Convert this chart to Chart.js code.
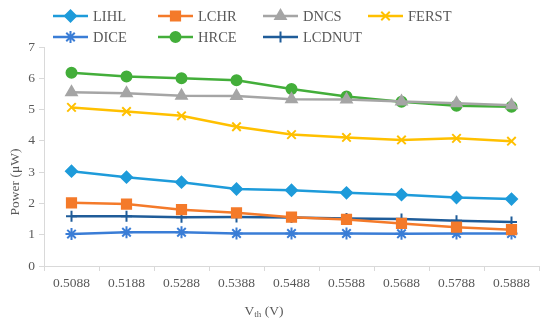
<!DOCTYPE html>
<html>
<head>
<meta charset="utf-8">
<script src="https://cdn.jsdelivr.net/npm/chart.js@4/dist/chart.umd.min.js"></script>
<style>
  html, body { margin: 0; padding: 0; background: #ffffff; }
  #wrap { width: 550px; height: 326px; position: relative; }
</style>
</head>
<body>
<div id="wrap"><canvas id="c" width="550" height="326"></canvas></div>
<script>
const categories = ['0.5088', '0.5188', '0.5288', '0.5388', '0.5488', '0.5588', '0.5688', '0.5788', '0.5888'];
const LIHL   = [3.03, 2.84, 2.68, 2.46, 2.42, 2.34, 2.28, 2.19, 2.14];
const LCHR   = [2.02, 1.98, 1.80, 1.70, 1.56, 1.49, 1.36, 1.24, 1.16];
const DNCS   = [5.55, 5.52, 5.44, 5.43, 5.33, 5.32, 5.26, 5.20, 5.14];
const FERST  = [5.07, 4.94, 4.80, 4.45, 4.20, 4.11, 4.03, 4.08, 3.99];
const DICE   = [1.02, 1.08, 1.08, 1.04, 1.04, 1.04, 1.03, 1.04, 1.04];
const HRCE   = [6.18, 6.06, 6.00, 5.94, 5.66, 5.42, 5.25, 5.12, 5.09];
const LCDNUT = [1.59, 1.59, 1.56, 1.57, 1.55, 1.52, 1.50, 1.45, 1.41];
const yTicks = [0, 1, 2, 3, 4, 5, 6, 7];

const FONT = "'Liberation Serif', 'Times New Roman', serif";
const TXT = '#595959';
const AXIS = '#D9D9D9';

const seriesDefs = [
  { label: 'LIHL',   data: LIHL,   color: '#1E9BDA', style: 'rectRot',  r: 5.5 },
  { label: 'LCHR',   data: LCHR,   color: '#F47A2A', style: 'rect',     r: 6.5 },
  { label: 'DNCS',   data: DNCS,   color: '#A5A5A5', style: 'triangle', r: 6 },
  { label: 'FERST',  data: FERST,  color: '#FFC000', style: 'crossRot', r: 6 },
  { label: 'DICE',   data: DICE,   color: '#3A7DD6', style: 'star',     r: 6 },
  { label: 'HRCE',   data: HRCE,   color: '#43AE3A', style: 'circle',   r: 5 },
  { label: 'LCDNUT', data: LCDNUT, color: '#1F5C99', style: 'cross',    r: 5.5 }
];

const datasets = seriesDefs.map(s => ({
  label: s.label,
  data: s.data,
  borderColor: s.color,
  backgroundColor: s.color,
  borderWidth: 2.5,
  pointStyle: s.style,
  pointRadius: s.r,
  pointHoverRadius: s.r,
  pointBorderWidth: 2,
  pointBorderColor: s.color,
  pointBackgroundColor: s.color,
  tension: 0,
  fill: false
}));

const customDraw = {
  id: 'customDraw',
  afterDraw(chart) {
    const ctx = chart.ctx;
    ctx.save();
    // Legend
    const cols = [53, 158, 263, 368];
    const rows = [16, 37];
    ctx.font = '14.5px ' + FONT;
    ctx.textBaseline = 'middle';
    ctx.textAlign = 'left';
    seriesDefs.forEach((s, i) => {
      const x = cols[i % 4];
      const y = rows[Math.floor(i / 4)];
      ctx.strokeStyle = s.color;
      ctx.lineWidth = 2.5;
      ctx.beginPath();
      ctx.moveTo(x, y);
      ctx.lineTo(x + 35, y);
      ctx.stroke();
      ctx.fillStyle = s.color;
      ctx.lineWidth = 2;
      Chart.helpers.drawPoint(ctx, { pointStyle: s.style, radius: s.r, rotation: 0, borderWidth: 2 }, x + 17.5, y);
      ctx.fillStyle = TXT;
      ctx.fillText(s.label, x + 40, y + 1);
    });
    // Y title
    ctx.save();
    ctx.translate(15, 182);
    ctx.rotate(-Math.PI / 2);
    ctx.textAlign = 'center';
    ctx.textBaseline = 'middle';
    ctx.font = '13.5px ' + FONT;
    ctx.fillStyle = TXT;
    ctx.fillText('Power (\u03bcW)', 0, 0);
    ctx.restore();
    // X title with subscript
    ctx.fillStyle = TXT;
    ctx.textBaseline = 'alphabetic';
    ctx.textAlign = 'left';
    const big = '13.5px ' + FONT, small = '9px ' + FONT;
    ctx.font = big; const wV = ctx.measureText('V').width;
    ctx.font = small; const wth = ctx.measureText('th').width;
    ctx.font = big; const wr = ctx.measureText(' (V)').width;
    const total = wV + wth + wr;
    let x0 = 264 - total / 2;
    const base = 315;
    ctx.font = big; ctx.fillText('V', x0, base); x0 += wV;
    ctx.font = small; ctx.fillText('th', x0, base + 2); x0 += wth;
    ctx.font = big; ctx.fillText(' (V)', x0, base);
    ctx.restore();
  }
};

new Chart(document.getElementById('c'), {
  type: 'line',
  data: { labels: categories, datasets: datasets },
  options: {
    responsive: false,
    animation: false,
    events: [],
    layout: { padding: { top: 47, right: 11, left: 0, bottom: 0 } },
    plugins: {
      legend: { display: false },
      tooltip: { enabled: false },
      title: { display: false }
    },
    scales: {
      x: {
        type: 'category',
        offset: true,
        grid: { offset: true, drawOnChartArea: false, drawTicks: true, tickLength: 5, color: AXIS, lineWidth: 1 },
        border: { display: true, color: AXIS, width: 1 },
        ticks: { color: TXT, font: { family: FONT, size: 13.5 }, padding: 4, maxRotation: 0, autoSkip: false },
        afterFit(scale) { scale.height = 60; }
      },
      y: {
        type: 'linear',
        min: yTicks[0],
        max: yTicks[yTicks.length - 1],
        afterBuildTicks(scale) { scale.ticks = yTicks.map(v => ({ value: v })); },
        grid: { drawOnChartArea: false, drawTicks: true, tickLength: 5, color: AXIS, lineWidth: 1 },
        border: { display: true, color: AXIS, width: 1 },
        ticks: { color: TXT, font: { family: FONT, size: 13.5 }, padding: 4 },
        afterFit(scale) { scale.width = 44; }
      }
    }
  },
  plugins: [customDraw]
});
</script>
</body>
</html>
